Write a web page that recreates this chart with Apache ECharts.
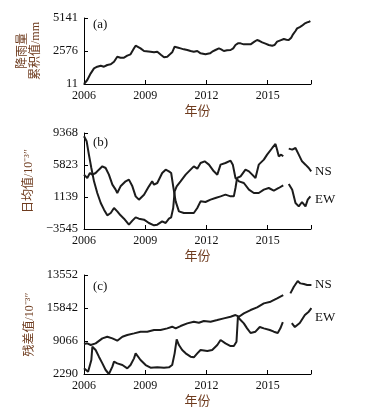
<!DOCTYPE html>
<html>
<head>
<meta charset="utf-8">
<script src="https://cdn.jsdelivr.net/npm/echarts@6/dist/echarts.min.js"></script>
<style>html,body{margin:0;padding:0;background:#fff;}#c{width:367px;height:415px;}</style>
</head>
<body>
<div id="c"></div>
<script>
// ---- X axis ----
var xTicks = [2006, 2009, 2012, 2015];
var xMin = 2006, xMax = 2017.12;

// ---- Panel (a) : rainfall cumulative ----
var aTicks = [11, 2576, 5141];
var aTickLabels = ['11', '2576', '5141'];
var aYear = [2006.00,2006.16,2006.33,2006.49,2006.65,2006.82,2006.98,2007.14,2007.31,2007.47,2007.63,2007.79,2007.96,2008.12,2008.28,2008.45,2008.53,2008.61,2008.77,2008.94,2009.02,2009.26,2009.43,2009.59,2009.67,2009.78,2009.92,2010.08,2010.21,2010.32,2010.44,2010.49,2010.62,2010.73,2010.89,2011.06,2011.22,2011.38,2011.46,2011.55,2011.71,2011.79,2011.95,2012.04,2012.17,2012.28,2012.44,2012.61,2012.72,2012.85,2013.01,2013.18,2013.31,2013.42,2013.54,2013.67,2013.83,2013.99,2014.16,2014.24,2014.35,2014.48,2014.61,2014.73,2014.89,2015.05,2015.22,2015.33,2015.46,2015.62,2015.79,2015.92,2016.03,2016.15,2016.24,2016.36,2016.44,2016.57,2016.68,2016.80,2016.93,2017.03,2017.09];
var aRain = [11,322,840,1228,1358,1435,1358,1487,1539,1746,2135,2057,2057,2213,2316,2782,2990,2912,2782,2575,2472,2523,2472,2523,2523,2264,2083,2135,2316,2472,2912,2964,2834,2782,2705,2653,2575,2523,2653,2575,2394,2342,2316,2342,2394,2523,2653,2782,2705,2575,2627,2653,2782,3041,3171,3171,3093,3093,3093,3171,3300,3430,3352,3248,3145,3041,2990,3041,3300,3404,3508,3456,3430,3611,3870,4129,4336,4440,4543,4699,4803,4854,4906];

// ---- Panel (b) : daily mean ----
var bTicks = [-3545, 1139, 5823, 10507];
var bTickLabels = ['\u22123545', '1139', '5823', '9368'];
var bNSYear = [2006.00,2006.16,2006.29,2006.41,2006.57,2006.73,2006.90,2007.06,2007.22,2007.39,2007.55,2007.63,2007.79,2008.04,2008.20,2008.37,2008.53,2008.69,2008.94,2009.18,2009.34,2009.43,2009.59,2009.83,2010.00,2010.16,2010.27,2010.37,2010.49,2010.65,2010.89,2011.14,2011.38,2011.55,2011.71,2011.95,2012.20,2012.44,2012.69,2012.93,2013.18,2013.34,2013.42,2013.50,2013.67,2013.91,2014.08,2014.24,2014.40,2014.56,2014.81,2014.97,2015.22,2015.38,2015.46,2015.54,2015.66,2015.76,2015.90,2016.03,2016.20,2016.36,2016.52,2016.68,2016.85,2017.01,2017.13];
var bNSVal = [4409,3921,4653,4409,4653,5141,5629,5385,4409,2945,2213,1725,2701,3433,3677,2701,1237,749,1481,2701,3433,2945,3189,4653,5141,4897,4653,2701,505,-959,-1203,-1203,-1203,-471,505,407,749,993,1237,1481,1237,1237,2457,3921,4165,5141,4897,4409,3921,5873,6605,7337,8313,8898,8069,7093,7337,7093,null,8215,8069,8313,7337,6361,5873,5385,4897];
var bEWYear = [2006.00,2006.13,2006.24,2006.36,2006.49,2006.65,2006.82,2006.98,2007.14,2007.31,2007.47,2007.63,2007.79,2007.96,2008.20,2008.37,2008.53,2008.69,2008.94,2009.18,2009.43,2009.59,2009.83,2010.00,2010.16,2010.27,2010.37,2010.44,2010.54,2010.73,2010.98,2011.22,2011.38,2011.55,2011.71,2011.91,2012.12,2012.36,2012.53,2012.69,2012.93,2013.18,2013.29,2013.42,2013.59,2013.83,2014.08,2014.32,2014.56,2014.81,2015.05,2015.30,2015.54,2015.76,2015.90,2016.03,2016.20,2016.36,2016.52,2016.68,2016.85,2016.96,2017.09];
var bEWVal = [10021,9289,7337,5385,3433,1725,261,-715,-1545,-1203,-471,-959,-1545,-2033,-2911,-2326,-1838,-2033,-2179,-2667,-3009,-2911,-2423,-2667,-2033,-1838,-471,1969,2701,3433,4409,5141,5629,5287,6117,6361,5873,4897,4409,5873,6117,6458,5873,3921,3433,3189,2213,1725,1725,2213,2457,2066,2457,2847,null,3042,2213,261,-227,407,-227,749,1237];

// ---- Panel (c) : residual ----
var cTicks = [2290, 9066, 15842, 22618];
var cTickLabels = ['2290', '9066', '15842', '13552'];
var cNSYear = [2006.00,2006.16,2006.33,2006.41,2006.57,2006.65,2006.90,2007.14,2007.39,2007.63,2007.88,2008.12,2008.45,2008.77,2009.10,2009.43,2009.75,2010.08,2010.32,2010.49,2010.73,2011.06,2011.38,2011.63,2011.87,2012.20,2012.53,2012.85,2013.18,2013.42,2013.59,2013.83,2014.16,2014.48,2014.81,2015.14,2015.46,2015.76,2015.95,2016.11,2016.28,2016.47,2016.60,2016.77,2016.93,2017.14];
var cNSVal = [8446,8583,8241,8036,8583,8925,9609,9951,9609,9130,9951,10293,10635,10977,10977,11319,11319,11661,12003,11661,12140,12687,13029,12824,13166,13029,13371,13713,14055,14397,14055,14739,15423,15970,16791,17133,17817,18501,null,18843,20211,21374,20895,20758,20553,20553];
var cEWYear = [2006.00,2006.08,2006.20,2006.29,2006.36,2006.41,2006.46,2006.57,2006.73,2006.90,2007.06,2007.22,2007.31,2007.39,2007.47,2007.55,2007.63,2007.71,2007.88,2008.12,2008.28,2008.45,2008.53,2008.61,2008.77,2009.02,2009.26,2009.59,2009.92,2010.16,2010.32,2010.44,2010.54,2010.65,2010.81,2010.98,2011.22,2011.38,2011.55,2011.71,2012.04,2012.28,2012.53,2012.69,2012.93,2013.18,2013.34,2013.47,2013.54,2013.67,2013.83,2013.99,2014.16,2014.40,2014.61,2014.81,2015.10,2015.30,2015.49,2015.62,2015.74,2015.95,2016.18,2016.33,2016.57,2016.82,2017.01,2017.14];
var cEWVal = [3453,3111,2769,3111,5163,7899,8241,7215,5847,4479,3111,2290,2427,3795,4821,5163,4479,4821,4137,3453,4137,5505,6531,6189,5163,4137,3590,3658,3590,3658,4137,6531,9404,8241,7215,6531,5847,5710,6531,7215,7010,7215,8241,9267,8583,8036,8036,8925,14055,13371,12687,11661,10703,10977,11934,11661,11319,10977,10703,11661,12960,null,12755,11934,12755,14397,15081,15833];

function pairs(xs, ys) { return xs.map(function (x, i) { return [x, ys[i]]; }); }

var serif = '"Liberation Serif", "Times New Roman", serif';
var cjk = '"Liberation Serif", "Noto Sans CJK SC", serif';
var titleColor = '#6e3b1e';
var lineColor = '#1c1c1c';

var grids = [
  { left: 84, right: 56, top: 18, height: 66 },
  { left: 84, right: 56, top: 133, height: 96 },
  { left: 84, right: 56, top: 275, height: 99 }
];

function xAxisFor(i) {
  return {
    type: 'value', gridIndex: i, min: xMin, max: xMax,
    name: '年份', nameLocation: 'middle', nameGap: 21,
    nameTextStyle: { fontFamily: cjk, fontSize: 13, color: titleColor },
    axisLine: { show: true, onZero: false, lineStyle: { color: '#000', width: 1 } },
    axisTick: { show: true, inside: true, length: 4, lineStyle: { color: '#000' }, customValues: xTicks.concat([xMax]) },
    axisLabel: { customValues: xTicks, margin: 6, fontFamily: serif, fontSize: 12, color: '#111',
      formatter: function (v) { return String(Math.round(v)); } },
    splitLine: { show: false }
  };
}

function yAxisFor(i, mn, mx, ticks, labels, name, gap) {
  return {
    type: 'value', gridIndex: i, min: mn, max: mx,
    name: name, nameLocation: 'middle', nameRotate: 90, nameGap: gap,
    nameTextStyle: { fontFamily: cjk, fontSize: 12, color: titleColor, lineHeight: 13 },
    axisLine: { show: true, onZero: false, lineStyle: { color: '#000', width: 1 } },
    axisTick: { show: true, inside: true, length: 4, lineStyle: { color: '#000' }, customValues: ticks },
    axisLabel: { customValues: ticks, margin: 6, fontFamily: serif, fontSize: 12.5, color: '#111',
      formatter: function (v) {
        for (var k = 0; k < ticks.length; k++) { if (Math.abs(ticks[k] - v) < 1e-6) return labels[k]; }
        return '';
      } },
    splitLine: { show: false }
  };
}

function lineSeries(i, data) {
  return {
    type: 'line', xAxisIndex: i, yAxisIndex: i, data: data,
    showSymbol: false, symbol: 'none', connectNulls: false, animation: false,
    lineStyle: { color: lineColor, width: 2 }
  };
}

function txt(x, y, s) {
  return { type: 'text', left: x, top: y, style: { text: s, font: '13px ' + serif, fill: '#111' } };
}

var option = {
  animation: false,
  backgroundColor: '#fff',
  grid: grids,
  xAxis: [xAxisFor(0), xAxisFor(1), xAxisFor(2)],
  yAxis: [
    yAxisFor(0, 11, 5141, aTicks, aTickLabels, '降雨量\n累积值/mm', 40),
    yAxisFor(1, -3545, 10507, bTicks, bTickLabels, '日均值/10\u207B\u00B3\u2033', 37),
    yAxisFor(2, 2290, 22618, cTicks, cTickLabels, '残差值/10\u207B\u00B3\u2033', 37)
  ],
  series: [
    lineSeries(0, pairs(aYear, aRain)),
    lineSeries(1, pairs(bNSYear, bNSVal)),
    lineSeries(1, pairs(bEWYear, bEWVal)),
    lineSeries(2, pairs(cNSYear, cNSVal)),
    lineSeries(2, pairs(cEWYear, cEWVal))
  ],
  graphic: [
    txt(93, 18, '(a)'),
    txt(93, 136, '(b)'),
    txt(93, 280, '(c)'),
    txt(315, 165, 'NS'),
    txt(315, 193, 'EW'),
    txt(315, 278, 'NS'),
    txt(315, 311, 'EW')
  ]
};

var chart = echarts.init(document.getElementById('c'), null, { renderer: 'canvas' });
chart.setOption(option);
</script>
</body>
</html>
